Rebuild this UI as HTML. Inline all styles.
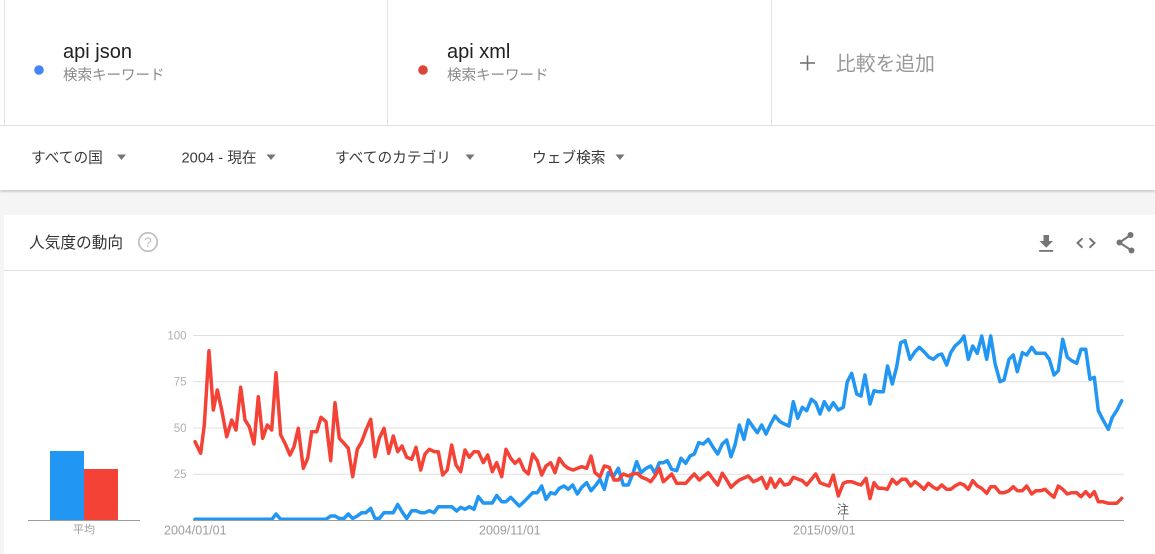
<!DOCTYPE html>
<html>
<head>
<meta charset="utf-8">
<style>
  html,body{margin:0;padding:0;}
  body{width:1155px;height:554px;overflow:hidden;background:#fff;position:relative;
       font-family:"Liberation Sans","Noto Sans CJK JP",sans-serif;}
  .abs{position:absolute;}
</style>
</head>
<body>
<div class="abs" style="left:0;top:190px;width:1155px;height:364px;background:#f5f5f5;"></div>
<div class="abs" style="left:0;top:126px;width:1155px;height:64px;background:#fff;box-shadow:0 2px 2px rgba(0,0,0,0.16);"></div>
<div class="abs" style="left:4px;top:215px;width:1151px;height:339px;background:#fff;"></div>

<svg class="abs" style="left:0;top:0" width="1155" height="554" viewBox="0 0 1155 554" xmlns="http://www.w3.org/2000/svg">
  <g font-family="Liberation Sans, Noto Sans CJK JP, sans-serif">
  <line x1="4.5" y1="0" x2="4.5" y2="125" stroke="#e0e0e0" stroke-width="1"/>
  <line x1="387.5" y1="0" x2="387.5" y2="125" stroke="#e0e0e0" stroke-width="1"/>
  <line x1="771.5" y1="0" x2="771.5" y2="125" stroke="#e0e0e0" stroke-width="1"/>
  <line x1="0" y1="125.5" x2="1155" y2="125.5" stroke="#e0e0e0" stroke-width="1"/>

  <circle cx="39" cy="70" r="4.8" fill="#4285f4"/>
  <text x="63" y="58" font-size="20" fill="#212121">api json</text>
  <text x="63" y="80" font-size="14.5" fill="#8a8a8a">検索キーワード</text>

  <circle cx="423" cy="70" r="4.8" fill="#db4437"/>
  <text x="447" y="58" font-size="20" fill="#212121">api xml</text>
  <text x="447" y="80" font-size="14.5" fill="#8a8a8a">検索キーワード</text>

  <rect x="800" y="62.2" width="15" height="1.6" fill="#757575"/>
  <rect x="806.7" y="55.5" width="1.6" height="15" fill="#757575"/>
  <text x="836" y="70.5" font-size="19.8" fill="#999">比較を追加</text>

  <g font-size="14.7" fill="#3c3c3c">
    <text x="31" y="162.5">すべての国</text>
    <text x="181.5" y="162.5">2004 - 現在</text>
    <text x="335" y="162.5">すべてのカテゴリ</text>
    <text x="532" y="162.5">ウェブ検索</text>
  </g>
  <g fill="#757575">
    <polygon points="117,154.5 126,154.5 121.5,160"/>
    <polygon points="266.5,154.5 275.5,154.5 271,160"/>
    <polygon points="465.5,154.5 474.5,154.5 470,160"/>
    <polygon points="615.5,154.5 624.5,154.5 620,160"/>
  </g>

  <text x="29" y="248" font-size="15.7" fill="#333">人気度の動向</text>
  <circle cx="148" cy="242" r="9.2" fill="none" stroke="#bdbdbd" stroke-width="1.6"/>
  <text x="148" y="247" font-size="13.5" fill="#bdbdbd" text-anchor="middle">?</text>
  <line x1="4" y1="270.5" x2="1155" y2="270.5" stroke="#e0e0e0" stroke-width="1"/>

  <g fill="#757575">
    <rect x="1043.5" y="235" width="5.5" height="6"/>
    <polygon points="1039.5,241 1053,241 1046.25,247.8"/>
    <rect x="1039.2" y="250" width="14" height="1.8"/>
  </g>
  <g fill="none" stroke="#757575" stroke-width="2">
    <polyline points="1082.5,238.3 1077.5,243 1082.5,247.7"/>
    <polyline points="1089.5,238.3 1094.5,243 1089.5,247.7"/>
    <line x1="1130.5" y1="235" x2="1119.5" y2="242.5"/>
    <line x1="1119.5" y1="242.5" x2="1131.5" y2="250.5"/>
  </g>
  <g fill="#757575">
    <circle cx="1130.5" cy="235" r="3"/>
    <circle cx="1119.5" cy="242.5" r="3"/>
    <circle cx="1131.5" cy="250.5" r="3"/>
  </g>

  <rect x="50" y="451" width="34" height="69" fill="#2196f3"/>
  <rect x="84" y="469" width="34" height="51" fill="#f44336"/>
  <line x1="28" y1="520.5" x2="140" y2="520.5" stroke="#9e9e9e" stroke-width="1"/>
  <text x="84" y="533" font-size="11" fill="#9e9e9e" text-anchor="middle">平均</text>

  <g stroke="#e0e0e0" stroke-width="1">
    <line x1="193" y1="335.5" x2="1124" y2="335.5"/>
    <line x1="193" y1="381.7" x2="1124" y2="381.7"/>
    <line x1="193" y1="428" x2="1124" y2="428"/>
    <line x1="193" y1="474.2" x2="1124" y2="474.2"/>
  </g>
  <g font-size="11.5" fill="#b0b0b0" text-anchor="end">
    <text x="186.5" y="339.5">100</text>
    <text x="186.5" y="385.7">75</text>
    <text x="186.5" y="432">50</text>
    <text x="186.5" y="478.2">25</text>
  </g>

  <polyline fill="none" stroke="#2196f3" stroke-width="3.5" stroke-linejoin="round" stroke-linecap="round" points="195,519.3 272,519.3 276,514 280.7,519.3 326,519.3 330.7,516 335,516 339.3,518.5 344,518.5 348.3,514 352.7,518.5 357.3,516 361.7,512.7 366,512.7 370.7,508.3 375,518.5 379.3,518.5 384,512.7 388.7,512.7 393.3,512.7 397.7,504.5 402,511.7 406.7,518.5 411.7,510.7 416,510.7 420.7,512.7 425,512.7 429.3,510.7 434,512.7 438.3,506.7 442.7,506.7 447.3,506.7 451.7,506.7 456.7,511 460.7,507.3 465,509.3 469.3,506.7 474,509.3 478.3,496.7 483.3,503 487.7,503 492.3,503 496.7,495.5 501.7,501.7 506,501.7 510.7,497.3 515,501.7 519.3,506 524,501.7 528.3,497.3 532.7,492.7 537.3,492.7 541.7,486 546,499.3 550.7,492.7 555,494 559.3,488.3 564,486 568.3,489.3 572.7,485 577.3,494 581.7,487.3 586.7,482.7 591,490.7 596,485 600,479.3 604.3,489.3 608.3,472.7 613.3,476.7 618.3,468.3 623.3,485 628.3,485 632.7,474 636.7,461.7 641,472.7 646,468.3 650.7,466 655,473.3 659.3,462.7 663.3,462.7 667.3,460.7 671.7,469.3 676.7,470.7 681,458.3 685.7,463.3 690,456 694.3,454 698.7,442.7 703.3,444 708.3,439.3 712.7,446.7 717.7,454 722.3,444 726.7,440 731,456.7 735,445 739.3,425 744,439.3 748.3,420 753.3,427.3 757.3,432.7 761.7,425 766,434 770.7,424 775,416 780,421.7 784.3,424 789,426 793.3,401.7 797.7,418.3 802.3,407.3 806.7,410.7 811.3,399.3 815.7,402.7 820,414 824.3,401.7 829,410 833.3,402.7 838.3,410 843.3,407.3 847.3,381.7 851.7,373.3 856.7,394 861,396 865,375 870,404 874,390.7 878.3,391.7 883.3,391.7 887.5,366 892.3,384 896.7,366.7 900.7,342.7 905,340.7 910,359.3 915,351.7 919.3,347.3 924,351.7 929,357.3 933.3,359.3 938.3,355 941.7,354 946.7,365 950.7,352.7 955,346 960,341.7 964,336 968.3,359.3 972.7,346 977.3,353.3 981.7,336 986.7,359.3 990.7,336 995,363.3 1000,381.7 1004,380 1009,359.3 1013.3,355 1017.3,371.7 1022.3,352.7 1026.7,355 1031.7,347.3 1036,353.3 1040.7,353.3 1045,353.3 1049.3,359.3 1054,375 1058.3,370.7 1062.7,339.3 1067.3,357.3 1071.7,360.7 1076.7,363.3 1081,349.3 1085.7,349.3 1090,379.3 1094.3,377.3 1098.3,410.7 1102.7,419.3 1108.3,429.3 1112.3,417.3 1116.7,410.7 1121.7,400.7"/>

  <polyline fill="none" stroke="#f44336" stroke-width="3.5" stroke-linejoin="round" stroke-linecap="round" points="195,441.7 200.7,453.3 204.3,425 209,350.7 213.3,410 217.3,390 221.7,410 226.7,436.7 231.7,420 236,430 240.7,387.3 245,420 249.3,426.7 254,444 258.3,396.7 262.7,438.3 267.3,425 271.7,430 276,372.7 280.7,435 285,443.3 290,455 294,446.7 298.3,428.3 303.3,468.3 307.7,458.3 311.7,431.7 316.7,431.7 321,417.3 326,421.7 330.7,460.7 335,402.7 339.3,438.3 344,443.3 348.3,448.3 352.7,476.7 357.3,449.3 361.7,441.7 366,430 370.7,419.3 375,456.7 379.3,438.3 384,428.3 388.7,453.3 393.3,436 397.7,451.7 402,446 406.7,457.3 411.7,459.3 416,447.3 420.7,470 425,454 429.3,449.3 434.3,451.7 438.3,451.7 442.7,475 447.3,470 451.7,445 456,465 460.7,471.7 465,450 469.3,457.3 474,451.7 478.3,451.7 483.3,462.7 487.7,455 492.3,471.7 496.7,462.7 501.7,476.7 506,449.3 510.7,458.3 515,463.3 519.3,459.3 524,470 528.3,474 532.7,454 537.3,460.7 541.7,475 546,466 550.7,462.7 555,472.7 559.3,458.3 564,465 568.3,468.3 573.3,470 577.3,468.3 581.7,466.7 586.7,468.3 591,456 595,472.7 600,476.7 604.3,466 609.3,467.3 614,480 618.3,480 623.3,474 628.3,476 632.7,474 637.3,473.3 641.7,477.3 646.7,479.3 650.7,481.7 655,476 659.3,468.3 663.3,481.7 667.5,478 671.7,474 676.7,483.3 685.7,483.3 690,478.5 694.3,474 699.3,480 704,476 708.3,472.7 713,479 717.7,485 722.3,473.3 726.7,480 731,487.3 735,483.5 739.3,480 744,478 748.3,476 753.3,481.7 757.5,480 761.7,477.3 766.7,488.3 770.7,478.3 775,487.3 780,479.3 784.3,485 789,484 793.3,477.3 797.7,479 802.3,480.7 806.7,485 811.3,479.5 815.7,474 820,482.7 824.5,484.5 829,486 833.3,475 838.3,496 843.3,483.3 847.3,481.7 851.7,481.7 856.5,483.5 861,485 866,478.3 870,498.5 874,482.7 878.3,488.3 883,488.3 887.3,489.3 892.3,479.3 896.7,484 901.7,479.3 906,479.3 910.7,486 915,481.7 919.3,485 924,489.3 928.3,483.3 933.3,487.3 937.3,489.3 941.7,485 946.7,489.3 950.7,489.3 955,486 960,483.3 964,485 968.3,489.3 972.7,480.7 977.3,486 981.7,488.3 986.7,493.3 990.7,486.7 995,486.7 1000,492.7 1004,492.7 1009,490.7 1013.3,486.7 1017.3,490.7 1022.3,490.7 1026.7,486 1031.7,494 1036,490.7 1040.7,490.7 1045,489.3 1049.3,493.3 1054,497.3 1058.3,486 1062.7,489.3 1067.3,494 1071.7,492.7 1076.7,492.7 1081,496.7 1085.7,491.7 1090,496.7 1094.3,491.7 1098.3,501.7 1102.7,501.7 1108.3,503.3 1116.7,503.3 1121.7,498.3"/>

  <line x1="193" y1="520.5" x2="1124" y2="520.5" stroke="#9e9e9e" stroke-width="1"/>

  <text x="843" y="513.5" font-size="12" fill="#555" text-anchor="middle">注</text>
  <line x1="843.5" y1="515" x2="843.5" y2="520" stroke="#9e9e9e" stroke-width="1"/>

  <g font-size="12.5" fill="#9e9e9e">
    <text x="164" y="534.5">2004/01/01</text>
    <text x="479" y="534.5">2009/11/01</text>
    <text x="793" y="534.5">2015/09/01</text>
  </g>
  </g>
</svg>
</body>
</html>
